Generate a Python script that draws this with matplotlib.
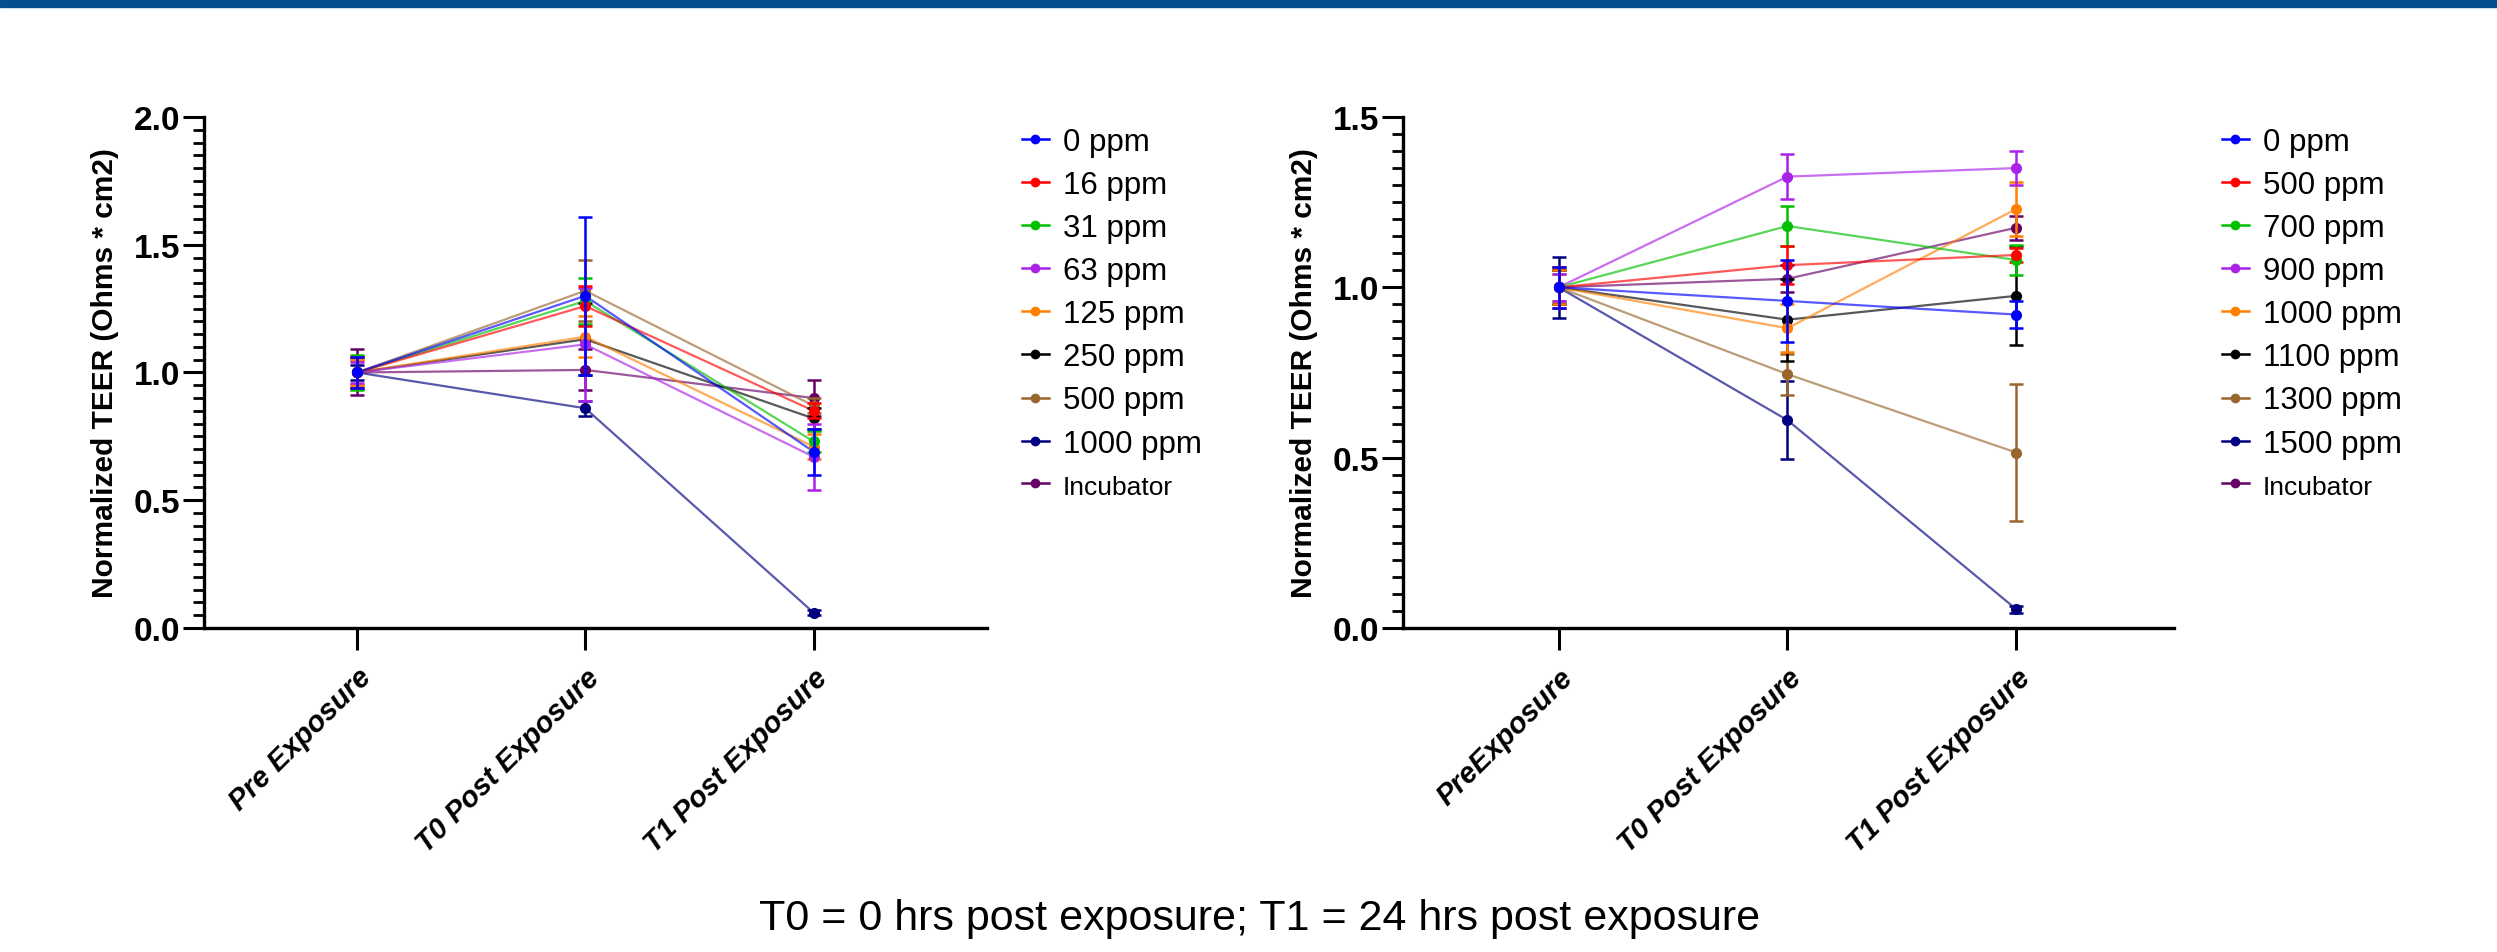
import matplotlib.pyplot as plt
import numpy as np
from matplotlib import ticker
from matplotlib.lines import Line2D
from matplotlib.patches import Rectangle

plt.rcParams['font.family'] = ['Liberation Sans', 'DejaVu Sans']

# left panel: low dose series
cats_left = ["Pre Exposure", "T0 Post Exposure", "T1 Post Exposure"]
labels_left = ["0 ppm", "16 ppm", "31 ppm", "63 ppm", "125 ppm", "250 ppm", "500 ppm", "1000 ppm", "Incubator"]
means_left = [
    [1.00, 1.30, 0.69],
    [1.00, 1.26, 0.85],
    [1.00, 1.28, 0.73],
    [1.00, 1.11, 0.67],
    [1.00, 1.14, 0.71],
    [1.00, 1.13, 0.82],
    [1.00, 1.32, 0.87],
    [1.00, 0.86, 0.06],
    [1.00, 1.01, 0.90],
]
err_left = [
    [0.06, 0.31, 0.09],
    [0.06, 0.08, 0.03],
    [0.07, 0.09, 0.04],
    [0.04, 0.22, 0.13],
    [0.05, 0.08, 0.05],
    [0.06, 0.14, 0.04],
    [0.05, 0.12, 0.03],
    [0.03, 0.03, 0.01],
    [0.09, 0.08, 0.07],
]

# right panel: high dose series
cats_right = ["PreExposure", "T0 Post Exposure", "T1 Post Exposure"]
labels_right = ["0 ppm", "500 ppm", "700 ppm", "900 ppm", "1000 ppm", "1100 ppm", "1300 ppm", "1500 ppm", "Incubator"]
means_right = [
    [1.00, 0.96, 0.92],
    [1.00, 1.065, 1.095],
    [1.00, 1.18, 1.08],
    [1.00, 1.325, 1.35],
    [1.00, 0.88, 1.23],
    [1.00, 0.905, 0.975],
    [1.00, 0.745, 0.515],
    [1.00, 0.61, 0.055],
    [1.00, 1.025, 1.175],
]
err_right = [
    [0.06, 0.12, 0.04],
    [0.06, 0.055, 0.02],
    [0.06, 0.06, 0.045],
    [0.04, 0.065, 0.05],
    [0.05, 0.07, 0.08],
    [0.05, 0.12, 0.145],
    [0.04, 0.06, 0.20],
    [0.09, 0.115, 0.01],
    [0.05, 0.04, 0.035],
]

COLORS = ["#0000FF", "#FF0000", "#00C000", "#AA22E8", "#FF8000",
          "#000000", "#99662F", "#000080", "#660066"]

footer = "T0 = 0 hrs post exposure; T1 = 24 hrs post exposure"


def draw_panel(ax, cats, labels, means, errs, ymax, xlim):
    x = np.arange(len(cats))
    # draw reversed so first series sits on top
    for i in reversed(range(len(labels))):
        c = COLORS[i]
        ax.plot(x, means[i], color=c, lw=1.6, alpha=0.65, zorder=2 + (9 - i) * 0.1)
        ax.errorbar(x, means[i], yerr=errs[i], fmt='o', color=c, ms=7,
                    elinewidth=1.8, capsize=5, capthick=1.8, zorder=3 + (9 - i) * 0.1)

    ax.set_xlim(*xlim)
    ax.set_ylim(0, ymax)
    ax.set_xticks(x)
    ax.set_xticklabels(cats, rotation=45, ha='right', va='top', rotation_mode='anchor',
                       fontsize=21, fontweight='bold', fontstyle='italic')
    ax.yaxis.set_major_locator(ticker.MultipleLocator(0.5))
    ax.yaxis.set_minor_locator(ticker.MultipleLocator(0.05))
    ax.yaxis.set_major_formatter(ticker.FormatStrFormatter('%.1f'))
    for lab in ax.get_yticklabels():
        lab.set_fontweight('bold')
        lab.set_fontsize(24)
    ax.set_ylabel("Normalized TEER (Ohms * cm2)", fontsize=21.5, fontweight='bold', labelpad=11)

    ax.spines['top'].set_visible(False)
    ax.spines['right'].set_visible(False)
    ax.spines['left'].set_linewidth(2.4)
    ax.spines['bottom'].set_linewidth(2.4)
    ax.tick_params(axis='y', which='major', length=15, width=2.2, direction='out', pad=2)
    ax.tick_params(axis='y', which='minor', length=8, width=2.0, direction='out')
    ax.tick_params(axis='x', which='major', length=16, width=2.2, direction='out', pad=9)

    handles = [Line2D([], [], color=COLORS[i], marker='o', ms=6, lw=1.8) for i in range(len(labels))]
    return handles


def main():
    fig = plt.figure(figsize=(24.97, 9.53), dpi=100)

    # top banner
    fig.patches.append(Rectangle((0, 1 - 8 / 953), 1, 8 / 953, transform=fig.transFigure,
                                 color="#034E8F", zorder=0))

    ax1 = fig.add_axes([0.0817, 0.340, 0.3136, 0.5362])
    ax2 = fig.add_axes([0.5619, 0.340, 0.3088, 0.5362])

    h1 = draw_panel(ax1, cats_left, labels_left, means_left, err_left, 2.0, (-0.67, 2.76))
    h2 = draw_panel(ax2, cats_right, labels_right, means_right, err_right, 1.5, (-0.68, 2.69))

    for ax, h, labels, x0 in ((ax1, h1, labels_left, 0.4093), (ax2, h2, labels_right, 0.8899)):
        leg = fig.legend(h, labels, loc='upper left', bbox_to_anchor=(x0, 0.866),
                         bbox_transform=fig.transFigure, frameon=False, fontsize=22.5,
                         handlelength=0.85, handletextpad=0.45, labelspacing=0.42,
                         borderpad=0, borderaxespad=0)
        leg.get_texts()[-1].set_fontsize(19)

    fig.text(0.5045, 0.036, footer, ha='center', va='center', fontsize=31)

    fig.savefig("out.png", dpi=100)


if __name__ == '__main__':
    main()
